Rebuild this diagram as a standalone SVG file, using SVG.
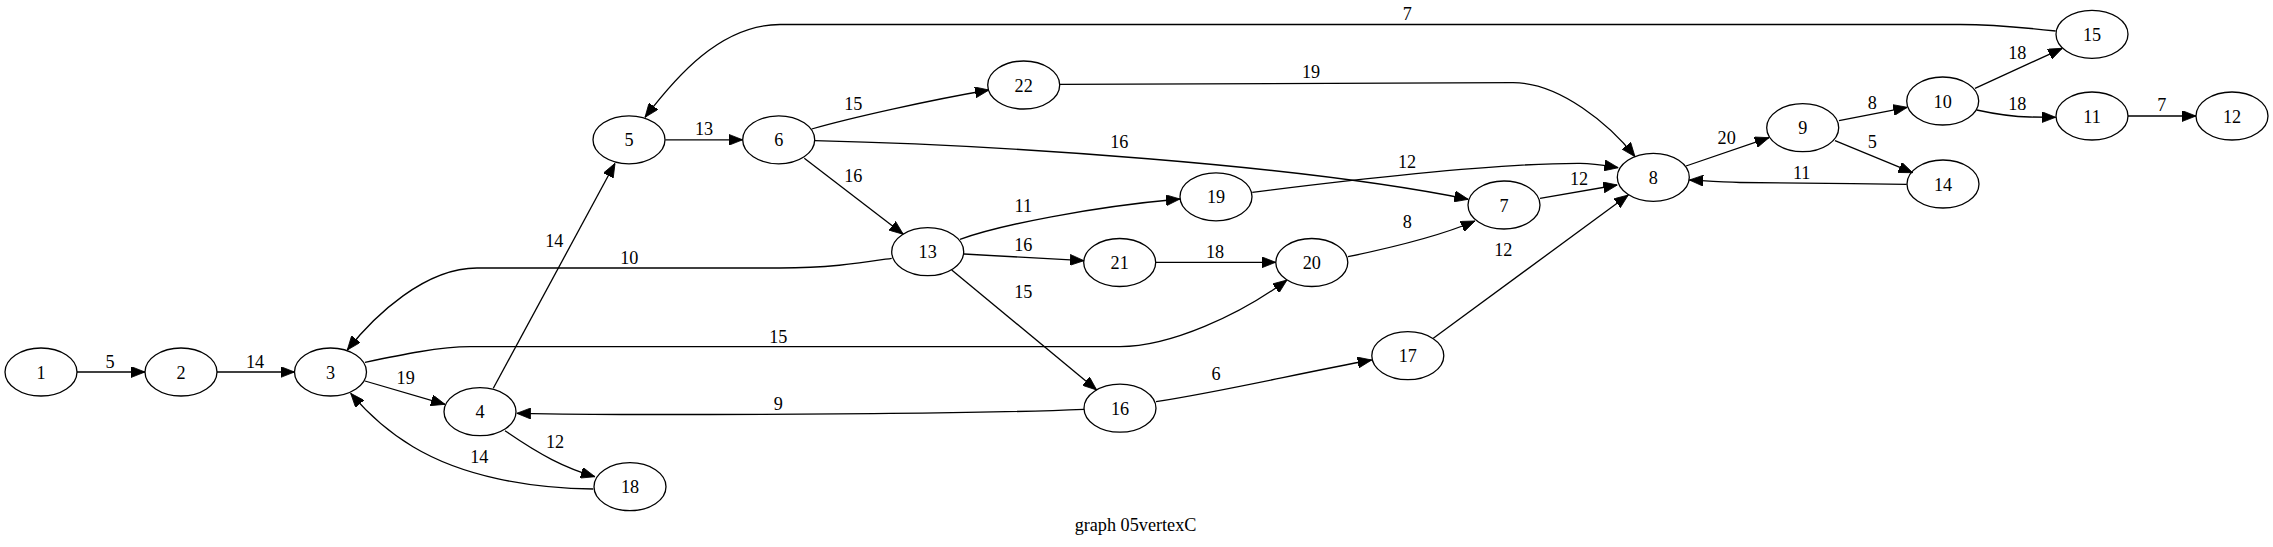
<svg xmlns="http://www.w3.org/2000/svg" width="2273" height="547" viewBox="0 0 2273 547">
<style>
.n ellipse{fill:none;stroke:#000;stroke-width:1.3}
text{font-family:"Liberation Serif","Times New Roman",serif;font-size:18.2px;fill:#000;text-anchor:middle}
.e path{fill:none;stroke:#000;stroke-width:1.3;marker-end:url(#ah)}
</style>
<defs>
<marker id="ah" viewBox="0 0 14 11" refX="14" refY="5.5" markerWidth="14" markerHeight="11" markerUnits="userSpaceOnUse" orient="auto">
<path d="M0,0 L14,5.5 L0,11 z" fill="#000" stroke="#000" stroke-width="0.8"/>
</marker>
</defs>
<rect width="2273" height="547" fill="#fff"/>
<g id="edges" class="e">
<path d="M77,372 L145,372"/>
<path d="M217,372 L294.5,372"/>
<path d="M365,381 L445,404.3"/>
<path d="M365,362.3 C400,355 440,346.7 470,346.7 L1120,346.7 C1170,346.7 1240,315 1287,280"/>
<path d="M493.3,388.3 L615,163.3"/>
<path d="M505,430.7 C540,455 565,468 595,476.7"/>
<path d="M593.3,489 C530,488.3 463,476.7 413,446.7 C385,430 365,410 350.7,393.3"/>
<path d="M891.7,258.3 C860,263 830,268 780,268 L477,268 C425,268 375,315 347.3,350"/>
<path d="M1084,409.3 C1000,413 850,414.5 650,414.5 C580,414.5 540,413.6 516.7,413.3"/>
<path d="M665.3,139.8 L742.7,139.8"/>
<path d="M2055.7,31 C2020,27 1990,24.5 1960,24.5 L780,24.5 C720,24.5 675,78 645,117.3"/>
<path d="M811.7,129 C850,118 930,100 989,90"/>
<path d="M814.7,140.7 C1000,145 1300,165 1468.3,199.3"/>
<path d="M804.3,158.3 L903.3,234.3"/>
<path d="M1060,84.3 C1150,83 1300,82.7 1513,82.7 C1560,82.7 1610,125 1635,156.7"/>
<path d="M960,239.3 C1000,225 1090,207 1180,199"/>
<path d="M964,254 L1084,260.7"/>
<path d="M951.7,270 L1096.7,390"/>
<path d="M1156,262.3 L1275.7,262.3"/>
<path d="M1252.3,192.3 C1350,180 1500,163 1580,163.3 C1595,163.5 1605,165.5 1618.3,167.7"/>
<path d="M1348,256.7 C1390,248 1440,236 1475,221"/>
<path d="M1540,198.3 L1617.3,185"/>
<path d="M1433.3,338.3 L1628.3,195"/>
<path d="M1156,401.7 C1230,390 1300,373 1371.7,360"/>
<path d="M1686,166 L1769,137.7"/>
<path d="M1839,120.7 L1907.3,107.3"/>
<path d="M1835,140.7 L1912.7,172.7"/>
<path d="M1906.7,184.3 C1850,183.5 1780,183 1740,182.5 C1720,182 1700,180.5 1689.3,180"/>
<path d="M1975,88.3 L2062.3,48.3"/>
<path d="M1976.7,110 C1995,114 2010,116.7 2030,117 L2055.7,117.3"/>
<path d="M2128,116 L2196,116"/>
</g>
<g id="edge-labels">
<text x="110" y="368">5</text>
<text x="255" y="368">14</text>
<text x="405.7" y="384">19</text>
<text x="778.3" y="342.6">15</text>
<text x="554.3" y="246.7">14</text>
<text x="555" y="448.3">12</text>
<text x="479.3" y="463.3">14</text>
<text x="629.3" y="263.5">10</text>
<text x="778.3" y="410">9</text>
<text x="704" y="135.3">13</text>
<text x="1407.3" y="20">7</text>
<text x="853.3" y="110.3">15</text>
<text x="1119.3" y="147.7">16</text>
<text x="853.3" y="182">16</text>
<text x="1311" y="78.3">19</text>
<text x="1023.3" y="211.7">11</text>
<text x="1023.3" y="250.7">16</text>
<text x="1023.3" y="297.7">15</text>
<text x="1215" y="257.7">18</text>
<text x="1407" y="167.7">12</text>
<text x="1407.3" y="227.7">8</text>
<text x="1579" y="185">12</text>
<text x="1503.3" y="256">12</text>
<text x="1216" y="380.3">6</text>
<text x="1726.7" y="144.3">20</text>
<text x="1872.3" y="108.7">8</text>
<text x="1872.3" y="148.3">5</text>
<text x="1801.7" y="179.3">11</text>
<text x="2017.3" y="59.3">18</text>
<text x="2017.3" y="110.3">18</text>
<text x="2161.7" y="110.7">7</text>
</g>
<g id="n1" class="n"><ellipse cx="41" cy="372" rx="36" ry="24"/><text x="41" y="378.5">1</text></g>
<g id="n2" class="n"><ellipse cx="181" cy="372" rx="36" ry="24"/><text x="181" y="378.5">2</text></g>
<g id="n3" class="n"><ellipse cx="330.5" cy="372" rx="36" ry="24"/><text x="330.5" y="378.5">3</text></g>
<g id="n4" class="n"><ellipse cx="480" cy="411.7" rx="36" ry="24"/><text x="480" y="418.2">4</text></g>
<g id="n5" class="n"><ellipse cx="629" cy="139.8" rx="36" ry="24"/><text x="629" y="146.3">5</text></g>
<g id="n6" class="n"><ellipse cx="778.7" cy="139.8" rx="36" ry="24"/><text x="778.7" y="146.3">6</text></g>
<g id="n7" class="n"><ellipse cx="1504" cy="205" rx="36" ry="24"/><text x="1504" y="211.5">7</text></g>
<g id="n8" class="n"><ellipse cx="1653.3" cy="177.3" rx="36" ry="24"/><text x="1653.3" y="183.8">8</text></g>
<g id="n9" class="n"><ellipse cx="1802.7" cy="127.7" rx="36" ry="24"/><text x="1802.7" y="134.2">9</text></g>
<g id="n10" class="n"><ellipse cx="1942.7" cy="101" rx="36" ry="24"/><text x="1942.7" y="107.5">10</text></g>
<g id="n11" class="n"><ellipse cx="2092" cy="116" rx="36" ry="24"/><text x="2092" y="122.5">11</text></g>
<g id="n12" class="n"><ellipse cx="2232" cy="116" rx="36" ry="24"/><text x="2232" y="122.5">12</text></g>
<g id="n13" class="n"><ellipse cx="927.7" cy="251.7" rx="36" ry="24"/><text x="927.7" y="258.2">13</text></g>
<g id="n14" class="n"><ellipse cx="1943" cy="184" rx="36" ry="24"/><text x="1943" y="190.5">14</text></g>
<g id="n15" class="n"><ellipse cx="2092" cy="34.3" rx="36" ry="24"/><text x="2092" y="40.8">15</text></g>
<g id="n16" class="n"><ellipse cx="1120" cy="408.2" rx="36" ry="24"/><text x="1120" y="414.7">16</text></g>
<g id="n17" class="n"><ellipse cx="1407.8" cy="355.7" rx="36" ry="24"/><text x="1407.8" y="362.2">17</text></g>
<g id="n18" class="n"><ellipse cx="630" cy="486.7" rx="36" ry="24"/><text x="630" y="493.2">18</text></g>
<g id="n19" class="n"><ellipse cx="1216" cy="196.8" rx="36" ry="24"/><text x="1216" y="203.3">19</text></g>
<g id="n20" class="n"><ellipse cx="1311.8" cy="262.5" rx="36" ry="24"/><text x="1311.8" y="269">20</text></g>
<g id="n21" class="n"><ellipse cx="1119.7" cy="262.5" rx="36" ry="24"/><text x="1119.7" y="269">21</text></g>
<g id="n22" class="n"><ellipse cx="1023.7" cy="85" rx="36" ry="24"/><text x="1023.7" y="91.5">22</text></g>
<text id="title" x="1135.5" y="531">graph 05vertexC</text>
</svg>
